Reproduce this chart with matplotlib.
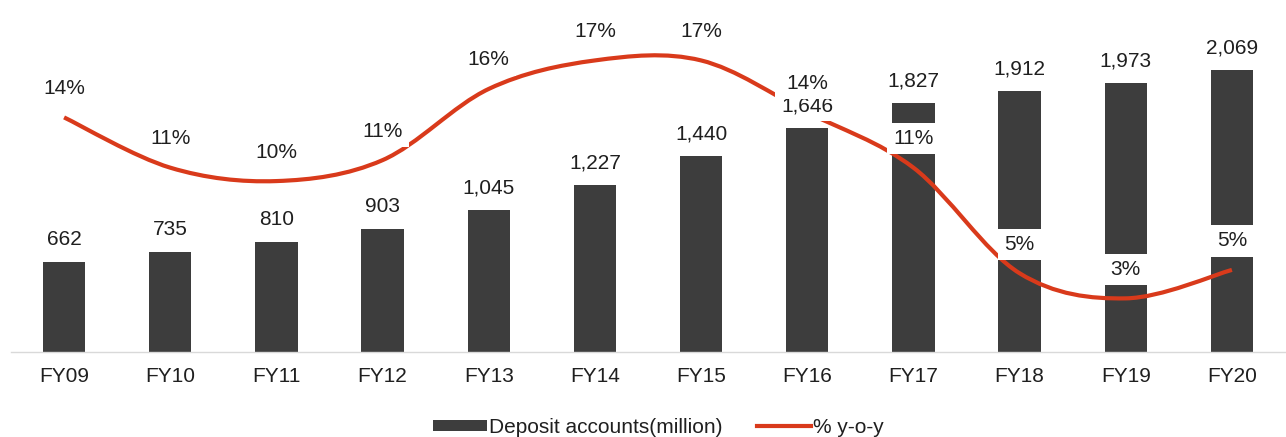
import numpy as np
import matplotlib.pyplot as plt
from matplotlib.path import Path
from matplotlib.patches import PathPatch
from matplotlib.lines import Line2D
from matplotlib.patches import Patch

plt.rcParams['font.family'] = ['Liberation Sans', 'DejaVu Sans']

years = ['FY09', 'FY10', 'FY11', 'FY12', 'FY13', 'FY14', 'FY15', 'FY16',
         'FY17', 'FY18', 'FY19', 'FY20']
accounts = [662, 735, 810, 903, 1045, 1227, 1440, 1646, 1827, 1912, 1973, 2069]
growth = [14.0, 11.0, 10.2, 11.45, 15.7, 17.4, 17.4, 14.3, 11.0, 4.7, 3.2, 4.9]

bar_color = '#3d3d3d'
line_color = '#d93a1b'
text_color = '#1f1f1f'
fs = 15

fig = plt.figure(figsize=(12.86, 4.37), dpi=100)
ax = fig.add_axes([11 / 1286, 85 / 437, 1274 / 1286, 340 / 437])
ax2 = ax.twinx()

x = np.arange(len(years))
ax.bar(x, accounts, width=0.4, color=bar_color, zorder=1)
ax.set_xlim(-0.5, len(years) - 0.5)
ax.set_ylim(0, 2495)
ax2.set_ylim(0, 20.29)

# smoothed line (Excel-style smooth), bezier through the data points
pts = list(zip(x.astype(float), growth))
verts = [pts[0]]
codes = [Path.MOVETO]
for i in range(len(pts) - 1):
    p_prev = pts[i - 1] if i > 0 else pts[i]
    p0 = pts[i]
    p1 = pts[i + 1]
    p_next = pts[i + 2] if i + 2 < len(pts) else pts[i + 1]
    c1 = (p0[0] + (p1[0] - p_prev[0]) / 6, p0[1] + (p1[1] - p_prev[1]) / 6)
    c2 = (p1[0] - (p_next[0] - p0[0]) / 6, p1[1] - (p_next[1] - p0[1]) / 6)
    verts += [c1, c2, p1]
    codes += [Path.CURVE4] * 3
ax2.add_patch(PathPatch(Path(verts, codes), facecolor='none', edgecolor=line_color,
                        lw=3, capstyle='butt', zorder=2))

box = dict(facecolor='white', edgecolor='none', pad=4.5)
for xi, v in zip(x, accounts):
    ax2.annotate(f'{v:,}', xy=(xi, v), xycoords=ax.transData, xytext=(0, 9),
                 textcoords='offset points', ha='center', va='bottom',
                 fontsize=fs, color=text_color, bbox=box, zorder=5)
for xi, g in zip(x, growth):
    ax2.annotate(f'{g:.0f}%', xy=(xi, g), xytext=(0, 14),
                 textcoords='offset points', ha='center', va='bottom',
                 fontsize=fs, color=text_color, bbox=box, zorder=5)

ax.set_xticks(x)
ax.set_xticklabels(years, fontsize=fs, color=text_color)
ax.tick_params(axis='x', length=0, pad=11)
ax.set_yticks([])
ax2.set_yticks([])
for a in (ax, ax2):
    for s in ['top', 'left', 'right', 'bottom']:
        a.spines[s].set_visible(False)
ax.spines['bottom'].set_visible(True)
ax.spines['bottom'].set_color('#d9d9d9')
ax.spines['bottom'].set_linewidth(1)

handles = [Patch(facecolor=bar_color, edgecolor='none'),
           Line2D([], [], color=line_color, lw=3)]
fig.legend(handles, ['Deposit accounts(million)', '% y-o-y'], loc='center',
           bbox_to_anchor=(0.512, 0.022), ncol=2, frameon=False, fontsize=fs,
           handlelength=2.6, handleheight=0.45, handletextpad=0.1,
           columnspacing=1.65, labelcolor=text_color)

fig.savefig('out.png', dpi=100)
